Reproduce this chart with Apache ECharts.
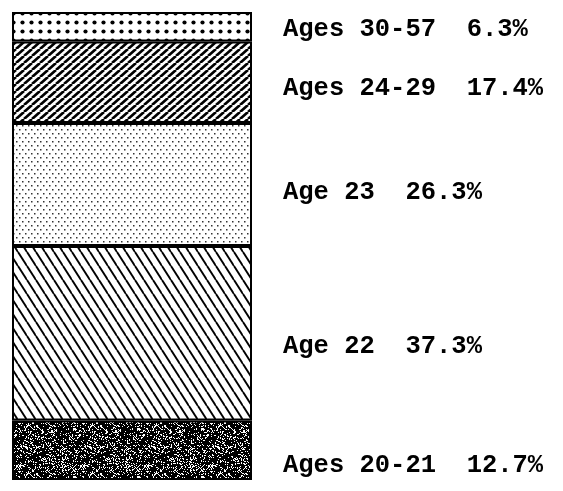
<!DOCTYPE html>
<html>
<head>
<meta charset="utf-8">
<script src="https://cdn.jsdelivr.net/npm/echarts@6/dist/echarts.min.js"></script>
<style>
  html, body { margin: 0; padding: 0; background: #fff; }
  #chart { width: 563px; height: 491px; }
</style>
</head>
<body>
<div id="chart"></div>
<script>
// bottom to top
var groups = ['Ages 20-21', 'Age 22', 'Age 23', 'Ages 24-29', 'Ages 30-57'];
var shares = [12.7, 37.3, 26.3, 17.4, 6.3];
var category = ['All'];
// the printed labels sit a little below the middle of their band
var labelDrop = [15, 13, 8, 6, 3];

function tile(w, h, draw) {
  var c = document.createElement('canvas');
  c.width = w; c.height = h;
  var ctx = c.getContext('2d');
  ctx.fillStyle = '#fff';
  ctx.fillRect(0, 0, w, h);
  draw(ctx, w, h);
  return c;
}

// fixed hash so the speckle looks the same every time
function hash(x, y) {
  var n = (x * 374761393 + y * 668265263) | 0;
  n = Math.imul(n ^ (n >>> 13), 1274126177);
  return ((n ^ (n >>> 16)) >>> 0) / 4294967296;
}

function hatch(w, h, lw, forward) {
  return tile(w, h, function (ctx) {
    ctx.strokeStyle = '#000';
    ctx.lineWidth = lw;
    for (var k = -1; k <= 1; k++) {
      ctx.beginPath();
      if (forward) {
        ctx.moveTo(k * w, h); ctx.lineTo(k * w + w, 0);
      } else {
        ctx.moveTo(k * w, 0); ctx.lineTo(k * w + w, h);
      }
      ctx.stroke();
    }
  });
}

var patterns = [
  tile(64, 48, function (ctx, w, h) {
    ctx.fillStyle = '#000';
    ctx.fillRect(0, 0, w, h);
    ctx.fillStyle = '#fff';
    for (var y = 0; y < h; y++) {
      for (var x = 0; x < w; x++) {
        var v = hash(x, y) + 0.25 * hash(x >> 2, y >> 1);
        if (v > 0.9) ctx.fillRect(x, y, 1, 1);
      }
    }
  }),
  hatch(9, 14, 1.9, false),
  tile(6, 8, function (ctx) {
    ctx.fillStyle = '#333';
    ctx.fillRect(1, 1, 1.5, 1.5);
    ctx.fillRect(4, 5, 1.5, 1.5);
  }),
  hatch(8, 7, 2.7, true),
  tile(9, 9, function (ctx) {
    ctx.fillStyle = '#000';
    ctx.beginPath();
    ctx.arc(4.5, 4.5, 2.1, 0, Math.PI * 2);
    ctx.fill();
  })
];

var chart = echarts.init(document.getElementById('chart'));

var series = groups.map(function (g, i) {
  return {
    type: 'bar',
    name: g,
    stack: 'all',
    barWidth: '100%',
    barCategoryGap: 0,
    data: [shares[i]],
    itemStyle: {
      color: { image: patterns[i], repeat: 'repeat' },
      borderColor: '#000',
      borderWidth: 2
    },
    label: {
      show: true,
      position: 'right',
      distance: 31,
      offset: [0, labelDrop[i]],
      color: '#000',
      fontFamily: 'Liberation Mono',
      fontWeight: 'bold',
      fontSize: 25.5,
      formatter: function (p) {
        return p.seriesName + '  ' + p.value.toFixed(1) + '%';
      }
    },
    emphasis: { disabled: true }
  };
});

chart.setOption({
  animation: false,
  grid: { left: 12, right: 311, top: 12, bottom: 11 },
  xAxis: {
    type: 'category',
    data: category,
    show: false
  },
  yAxis: {
    type: 'value',
    min: 0,
    max: 100,
    show: false
  },
  series: series
});
</script>
</body>
</html>
